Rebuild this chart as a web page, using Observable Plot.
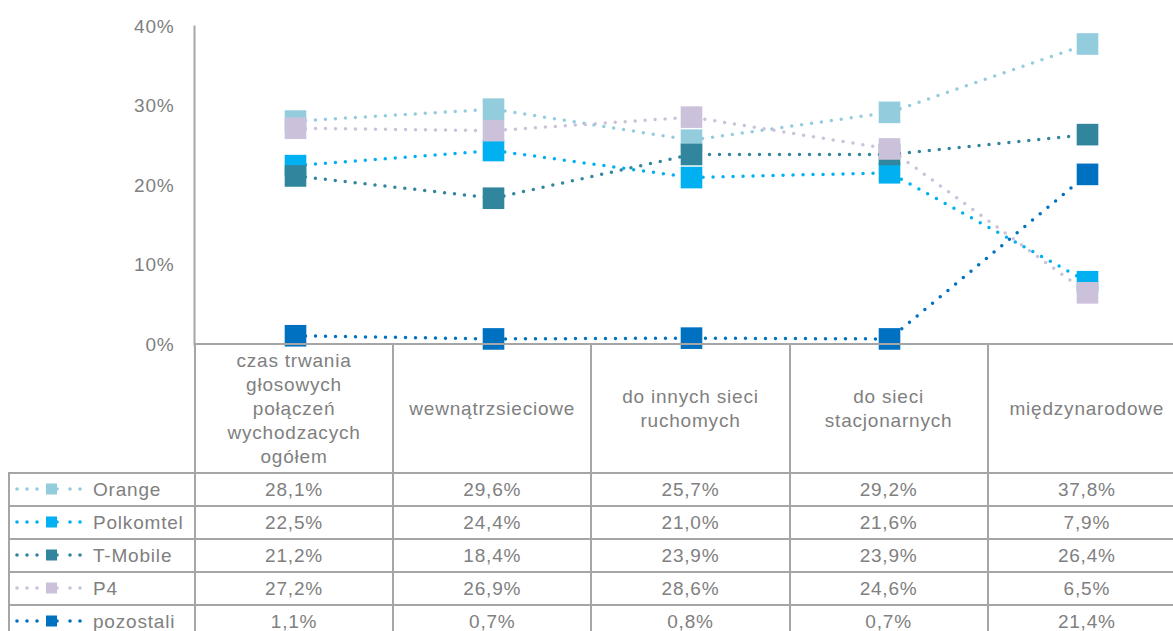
<!DOCTYPE html>
<html>
<head>
<meta charset="utf-8">
<script src="https://cdn.jsdelivr.net/npm/d3@7"></script>
<script src="https://cdn.jsdelivr.net/npm/@observablehq/plot@0.6"></script>
<style>
html, body { margin: 0; padding: 0; background: #fff; overflow: hidden; width: 1173px; height: 631px; }
#wrap { position: relative; width: 1187px; height: 631px; font-family: "Liberation Sans", Arial, sans-serif; color: #808080; }
#chart { position: absolute; left: 0; top: 0; }
#chart svg text { letter-spacing: 0.8px; }
table { position: absolute; left: 8px; top: 343px; border-collapse: collapse; table-layout: fixed; font-size: 19px; letter-spacing: 0.8px; color: #808080; }
td { border: 2px solid #a6a6a6; text-align: center; vertical-align: middle; padding: 0; white-space: pre-line; line-height: 24px; }
tr.head td { height: 127px; }
tr.row td { height: 31px; line-height: 20px; }
tr.head td.blank { border-top: none; border-left: none; }
td.leg { text-align: left; padding-left: 5px; white-space: nowrap; }
td.leg svg { vertical-align: middle; margin-right: 8px; position: relative; top: -1px; }
</style>
</head>
<body>
<div id="wrap">
  <div id="chart"></div>
  <table id="tbl"></table>
</div>
<script>
const categories = [
  "czas trwania\ngłosowych\npołączeń\nwychodzacych\nogółem",
  "wewnątrzsieciowe",
  "do innych sieci\nruchomych",
  "do sieci\nstacjonarnych",
  "międzynarodowe"
];
const series = ["Orange", "Polkomtel", "T-Mobile", "P4", "pozostali"];
const colors = ["#93cddd", "#00b0f0", "#31859c", "#ccc1da", "#0070c0"];
const orange    = [28.1, 29.6, 25.7, 29.2, 37.8];
const polkomtel = [22.5, 24.4, 21.0, 21.6, 7.9];
const tmobile   = [21.2, 18.4, 23.9, 23.9, 26.4];
const p4        = [27.2, 26.9, 28.6, 24.6, 6.5];
const pozostali = [1.1, 0.7, 0.8, 0.7, 21.4];
const yTicks = [0, 10, 20, 30, 40];

const values = [orange, polkomtel, tmobile, p4, pozostali];
const data = series.flatMap((s, i) => categories.map((c, j) => ({series: s, cat: c, value: values[i][j]})));
const fmt = v => v.toFixed(1).replace(".", ",") + "%";

const plot = Plot.plot({
  width: 1187,
  height: 345,
  marginLeft: 194,
  marginRight: 0,
  marginTop: 26,
  marginBottom: 1,
  style: {fontFamily: "'Liberation Sans', Arial, sans-serif", fontSize: "19px", color: "#808080", background: "transparent", overflow: "visible"},
  x: {type: "point", domain: categories, padding: 0.5, axis: null},
  y: {domain: [0, 40], ticks: yTicks, tickFormat: d => d + "%", tickSize: 0, tickPadding: 20, label: null},
  marks: [
    Plot.frame({anchor: "left", stroke: "#a6a6a6", strokeWidth: 2}),
    ...series.flatMap((s, i) => {
      const d = data.filter(r => r.series === s);
      return [
        Plot.line(d, {x: "cat", y: "value", stroke: colors[i], strokeWidth: 3.5, strokeDasharray: "0 10", strokeLinecap: "round"}),
        Plot.dot(d, {x: "cat", y: "value", fill: colors[i], symbol: "square", r: 12.2, stroke: null})
      ];
    })
  ]
});
document.getElementById("chart").appendChild(plot);

// data table
const tbl = document.getElementById("tbl");
const cg = document.createElement("colgroup");
[186, 198.5, 198.5, 198.5, 198.5, 198.5].forEach(w => {
  const col = document.createElement("col");
  col.style.width = w + "px";
  cg.appendChild(col);
});
tbl.appendChild(cg);
const head = document.createElement("tr");
head.className = "head";
const blank = document.createElement("td");
blank.className = "blank";
head.appendChild(blank);
categories.forEach(c => {
  const td = document.createElement("td");
  td.textContent = c;
  head.appendChild(td);
});
tbl.appendChild(head);
series.forEach((s, i) => {
  const tr = document.createElement("tr");
  tr.className = "row";
  const leg = document.createElement("td");
  leg.className = "leg";
  const col = colors[i];
  leg.innerHTML =
    `<svg width="70" height="12" viewBox="0 0 70 12">` +
    [2, 12, 22, 42, 55, 65].map(cx => `<circle cx="${cx}" cy="6" r="1.8" fill="${col}"/>`).join("") +
    `<rect x="31" y="0.5" width="11" height="11" fill="${col}"/></svg>` + s;
  tr.appendChild(leg);
  values[i].forEach(v => {
    const td = document.createElement("td");
    td.textContent = fmt(v);
    tr.appendChild(td);
  });
  tbl.appendChild(tr);
});
</script>
</body>
</html>
